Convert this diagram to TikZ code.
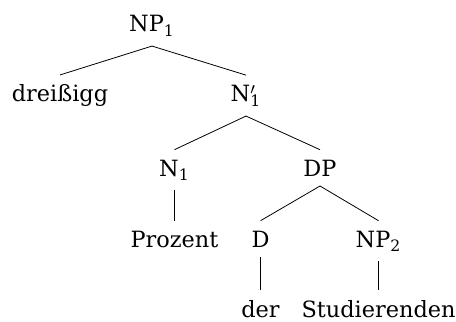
\documentclass[tikz,border=0pt]{standalone}
\usepackage{fontspec}
\setmainfont{DejaVu Serif}
\begin{document}
\begin{tikzpicture}[font=\fontsize{11.2}{13}\selectfont,
cat/.style={inner sep=4.8pt,anchor=base}]
\useasboundingbox (0,0) rectangle (8.013,-5.658);

\draw (2.671,-0.562) node[cat] (np) {NP\textsubscript{1}};
\draw (1.054,-1.792) node[cat] (dreissig) {dreißigg};
\draw (4.323,-1.792) node[cat] (nbar) {N\rlap{$'$}\textsubscript{1}};
\draw (3.066,-3.093) node[cat] (n) {N\textsubscript{1}};
\draw (5.623,-3.093) node[cat] (dp) {DP};
\draw (3.066,-4.341) node[cat] (prozent) {Prozent};
\draw (4.578,-4.341) node[cat] (d) {D};
\draw (6.652,-4.341) node[cat] (np2) {NP\textsubscript{2}};
\draw (4.578,-5.571) node[cat] (der) {der};
\draw (6.652,-5.571) node[cat] (stud) {Studierenden};

\draw (np.south) -- (dreissig.north);
\draw (np.south) -- (nbar.north);
\draw (nbar.south) -- (n.north);
\draw (nbar.south) -- (dp.north);
\draw (n.south) -- (prozent.north);
\draw (dp.south) -- (d.north);
\draw (dp.south) -- (np2.north);
\draw (d.south) -- (der.north);
\draw (np2.south) -- (stud.north);

\end{tikzpicture}
\end{document}
